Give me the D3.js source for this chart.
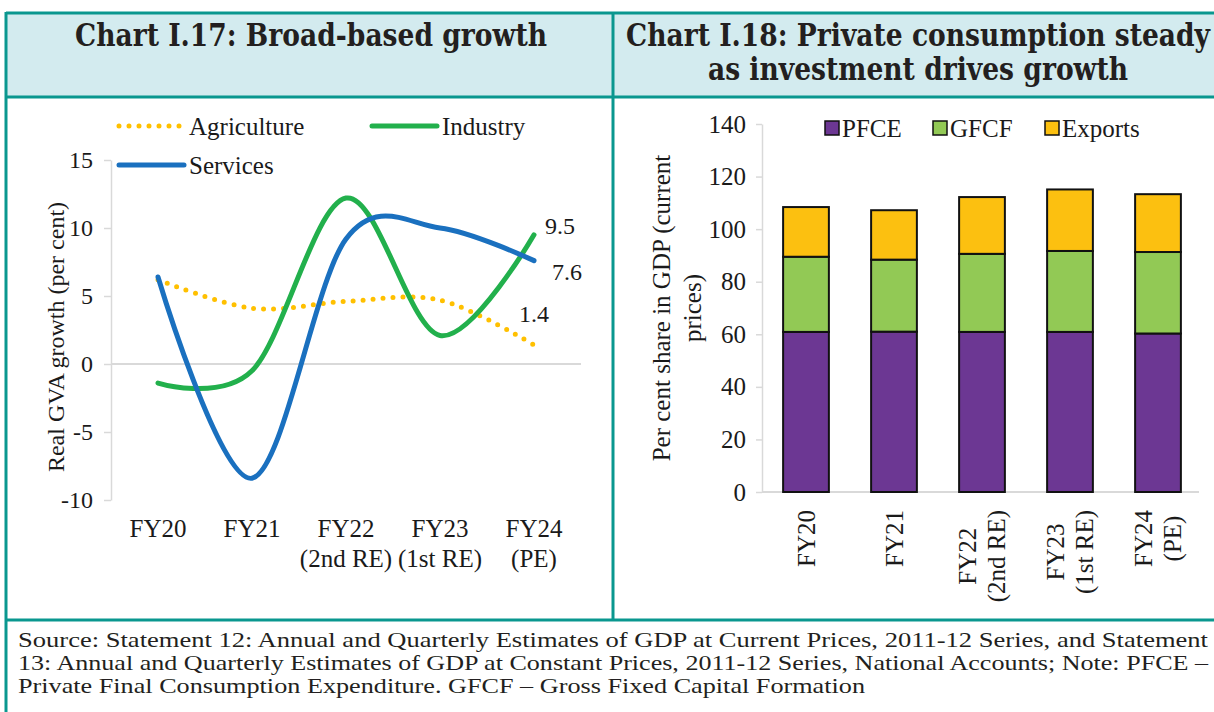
<!DOCTYPE html>
<html>
<head>
<meta charset="utf-8">
<script src="https://cdn.jsdelivr.net/npm/d3@7"></script>
<style>
  body { margin: 0; background: #fff; }
  svg { display: block; }
</style>
</head>
<body>
<div id="chart"></div>
<script>
// Categories and tick labels
let yearKeys = ["FY20", "FY21", "FY22", "FY23", "FY24"];
let yearLabels = [["FY20"], ["FY21"], ["FY22", "(2nd RE)"], ["FY23", "(1st RE)"], ["FY24", "(PE)"]];
let growthTicks = [-10, -5, 0, 5, 10, 15];
let shareTicks = [0, 20, 40, 60, 80, 100, 120, 140];

// Chart I.17 series: real GVA growth (per cent)
let agriculture = [6.2, 4.1, 4.6, 4.7, 1.4];
let industry = [-1.4, -0.5, 12.2, 2.1, 9.5];
let services = [6.4, -8.4, 9.2, 10.0, 7.6];

// Chart I.18 series: per cent share in GDP
let pfce = [60.9, 61.0, 60.9, 60.9, 60.3];
let gfcf = [28.6, 27.4, 29.7, 30.8, 31.0];
let exportsShare = [18.9, 18.8, 21.6, 23.4, 22.0];

// Texts
let titleLeft = "Chart I.17: Broad-based growth";
let titleRight = ["Chart I.18: Private consumption steady", "as investment drives growth"];
let footnote = [
  "Source: Statement 12: Annual and Quarterly Estimates of GDP at Current Prices, 2011-12 Series, and Statement",
  "13: Annual and Quarterly Estimates of GDP at Constant Prices, 2011-12 Series, National Accounts; Note: PFCE \u2013",
  "Private Final Consumption Expenditure. GFCF \u2013 Gross Fixed Capital Formation"
];
let footWidths = [1190, 1190, 847];

let width = 1214, height = 712;
let teal = "#0a978f";
let ink = "#1a1a1a";
let serif = "'Liberation Serif', 'Times New Roman', serif";
let titleFont = "'DejaVu Serif', Georgia, serif";

let svg = d3.select("#chart").append("svg")
  .attr("width", width)
  .attr("height", height);

// fit a text element to a target width by adjusting font size
function fitWidth(sel, target) {
  let w = sel.node().getComputedTextLength();
  let fs = parseFloat(sel.attr("font-size"));
  sel.attr("font-size", fs * target / w);
}

// ---------- frame ----------
svg.append("rect")
  .attr("x", 6).attr("y", 13)
  .attr("width", width).attr("height", 84)
  .attr("fill", "#d3ebef");

let frame = svg.append("g").attr("stroke", teal).attr("stroke-width", 3);
frame.append("line").attr("x1", 6).attr("x2", width).attr("y1", 13).attr("y2", 13);
frame.append("line").attr("x1", 6).attr("x2", width).attr("y1", 97).attr("y2", 97);
frame.append("line").attr("x1", 6).attr("x2", width).attr("y1", 620).attr("y2", 620);
frame.append("line").attr("x1", 6).attr("x2", 6).attr("y1", 12).attr("y2", height);
frame.append("line").attr("x1", 613).attr("x2", 613).attr("y1", 12).attr("y2", 620);

// titles (slightly stretched vertically to mimic the heavier original face)
function title(x, y, s) {
  return svg.append("g")
    .attr("transform", `translate(${x},${y}) scale(1,1.18)`)
    .append("text")
    .attr("text-anchor", "middle")
    .attr("font-family", titleFont)
    .attr("font-weight", "bold")
    .attr("font-size", 24)
    .attr("fill", "#231f20")
    .text(s);
}
fitWidth(title(311, 46, titleLeft), 472);
let t2 = title(918, 46, titleRight[0]);
fitWidth(t2, 584);
title(918, 80, titleRight[1]).attr("font-size", t2.attr("font-size"));

// footnote
svg.append("g")
  .attr("font-family", serif)
  .attr("font-size", 21)
  .attr("fill", "#231f20")
  .selectAll("text")
  .data(footnote)
  .enter()
  .append("text")
  .attr("x", 18)
  .attr("y", (d, i) => 647 + i * 23)
  .attr("textLength", (d, i) => footWidths[i])
  .attr("lengthAdjust", "spacingAndGlyphs")
  .text(d => d);

// ---------- Chart I.17 : lines ----------
let x1 = d3.scaleBand().domain(yearKeys).range([111, 581]);
let y1 = d3.scaleLinear().domain([-10, 15]).range([500, 160]);
let cx1 = (d, i) => x1(yearKeys[i]) + x1.bandwidth() / 2;

let left = svg.append("g");

// zero line
left.append("line")
  .attr("x1", 111).attr("x2", 581)
  .attr("y1", y1(0)).attr("y2", y1(0))
  .attr("stroke", "#d9d9d9").attr("stroke-width", 2);

let yAxis1 = left.append("g")
  .attr("transform", "translate(111,0)")
  .call(d3.axisLeft(y1).tickValues(growthTicks).tickFormat(d => String(d))
    .tickSize(7).tickSizeOuter(0).tickPadding(11));
yAxis1.select(".domain").attr("stroke", "#d9d9d9").attr("stroke-width", 1.5);
yAxis1.selectAll(".tick line").attr("stroke", "#d9d9d9").attr("stroke-width", 1.5);
yAxis1.selectAll(".tick text")
  .attr("font-family", serif).attr("font-size", 24).attr("fill", ink);

// x labels
left.selectAll(".xlab")
  .data(yearLabels)
  .enter()
  .append("text")
  .attr("class", "xlab")
  .attr("text-anchor", "middle")
  .attr("font-family", serif)
  .attr("font-size", 25)
  .attr("fill", ink)
  .each(function (lines, i) {
    let t = d3.select(this);
    lines.forEach((s, j) => {
      t.append("tspan")
        .attr("x", cx1(null, i))
        .attr("y", 537 + j * 30)
        .text(s);
    });
  });

// y label
left.append("text")
  .attr("transform", "translate(56,337) rotate(-90)")
  .attr("text-anchor", "middle")
  .attr("dominant-baseline", "central")
  .attr("font-family", serif)
  .attr("font-size", 24)
  .attr("fill", ink)
  .text("Real GVA growth (per cent)");

let line1 = d3.line()
  .x(cx1)
  .y(d => y1(d))
  .curve(d3.curveCatmullRom.alpha(0));

let lineSeries = [
  { name: "Agriculture", values: agriculture, color: "#ffc000", dash: "0 10", width: 5 },
  { name: "Industry", values: industry, color: "#22b04c", dash: null, width: 5 },
  { name: "Services", values: services, color: "#1a70bf", dash: null, width: 5 }
];

left.selectAll(".series")
  .data(lineSeries)
  .enter()
  .append("path")
  .attr("class", "series")
  .attr("d", d => line1(d.values))
  .attr("fill", "none")
  .attr("stroke", d => d.color)
  .attr("stroke-width", d => d.width)
  .attr("stroke-linecap", "round")
  .attr("stroke-dasharray", d => d.dash);

// end labels
let endOffsets = [[-15, -31], [11, -9], [18, 11]];
left.selectAll(".endlab")
  .data(lineSeries)
  .enter()
  .append("text")
  .attr("class", "endlab")
  .attr("x", (d, i) => cx1(null, 4) + endOffsets[i][0])
  .attr("y", (d, i) => y1(d.values[4]) + endOffsets[i][1])
  .attr("dominant-baseline", "central")
  .attr("font-family", serif)
  .attr("font-size", 24)
  .attr("fill", ink)
  .text(d => d3.format(".1f")(d.values[4]));

// legend
let legendPos = [[117, 126], [370, 126], [117, 165]];
let lg = left.selectAll(".lg")
  .data(lineSeries)
  .enter()
  .append("g")
  .attr("class", "lg")
  .attr("transform", (d, i) => `translate(${legendPos[i][0]},${legendPos[i][1]})`);
lg.append("line")
  .attr("x1", 2).attr("x2", 67)
  .attr("stroke", d => d.color)
  .attr("stroke-width", d => d.width)
  .attr("stroke-linecap", "round")
  .attr("stroke-dasharray", d => d.dash);
lg.append("text")
  .attr("x", 72)
  .attr("dominant-baseline", "central")
  .attr("font-family", serif)
  .attr("font-size", 25)
  .attr("fill", ink)
  .text(d => d.name);

// ---------- Chart I.18 : stacked bars ----------
let x2 = d3.scaleBand().domain(yearKeys).range([762, 1202]).paddingInner(0.48).paddingOuter(0.24);
let y2 = d3.scaleLinear().domain([0, 140]).range([492, 124]);

let barKeys = ["PFCE", "GFCF", "Exports"];
let barColors = { PFCE: "#6c3793", GFCF: "#92c955", Exports: "#fcc010" };
let table = yearKeys.map((k, i) => ({ year: k, PFCE: pfce[i], GFCF: gfcf[i], Exports: exportsShare[i] }));
let stacked = d3.stack().keys(barKeys)(table);

let right = svg.append("g");

right.append("line")
  .attr("x1", 762).attr("x2", 1199)
  .attr("y1", y2(0)).attr("y2", y2(0))
  .attr("stroke", "#d9d9d9").attr("stroke-width", 2);

let yAxis2 = right.append("g")
  .attr("transform", "translate(762,0)")
  .call(d3.axisLeft(y2).tickValues(shareTicks).tickSize(6).tickSizeOuter(0).tickPadding(10));
yAxis2.select(".domain").attr("stroke", "#d9d9d9").attr("stroke-width", 1.5);
yAxis2.selectAll(".tick line").attr("stroke", "#d9d9d9").attr("stroke-width", 1.5);
yAxis2.selectAll(".tick text")
  .attr("font-family", serif).attr("font-size", 25).attr("fill", ink);

right.selectAll(".layer")
  .data(stacked)
  .enter()
  .append("g")
  .attr("class", "layer")
  .attr("fill", d => barColors[d.key])
  .selectAll("rect")
  .data(d => d)
  .enter()
  .append("rect")
  .attr("x", d => x2(d.data.year))
  .attr("y", d => y2(d[1]))
  .attr("width", x2.bandwidth())
  .attr("height", d => y2(d[0]) - y2(d[1]))
  .attr("stroke", "#111")
  .attr("stroke-width", 2);

// rotated x labels
right.selectAll(".xlab2")
  .data(yearLabels)
  .enter()
  .append("g")
  .attr("class", "xlab2")
  .attr("transform", (d, i) => `translate(${x2(yearKeys[i]) + x2.bandwidth() / 2},510) rotate(-90)`)
  .each(function (lines) {
    let g = d3.select(this);
    let texts = lines.map((s, j) => g.append("text")
      .attr("y", (j - (lines.length - 1) / 2) * 29)
      .attr("dominant-baseline", "central")
      .attr("text-anchor", "middle")
      .attr("font-family", serif)
      .attr("font-size", 25)
      .attr("fill", ink)
      .text(s));
    let maxW = d3.max(texts, t => t.node().getComputedTextLength());
    texts.forEach(t => t.attr("x", -maxW / 2));
  });

// y label (two lines)
let yl2 = right.append("g")
  .attr("transform", "translate(676,308) rotate(-90)");
["Per cent share in GDP (current", "prices)"].forEach((s, j) => {
  yl2.append("text")
    .attr("y", -15 + j * 31)
    .attr("text-anchor", "middle")
    .attr("dominant-baseline", "central")
    .attr("font-family", serif)
    .attr("font-size", 25)
    .attr("fill", ink)
    .text(s);
});

// legend
let legend2X = [825, 933, 1045];
let lg2 = right.selectAll(".lg2")
  .data(barKeys)
  .enter()
  .append("g")
  .attr("class", "lg2")
  .attr("transform", (d, i) => `translate(${legend2X[i]},128)`);
lg2.append("rect")
  .attr("x", 0).attr("y", -7)
  .attr("width", 14).attr("height", 14)
  .attr("fill", d => barColors[d])
  .attr("stroke", "#111")
  .attr("stroke-width", 1.5);
lg2.append("text")
  .attr("x", 17)
  .attr("dominant-baseline", "central")
  .attr("font-family", serif)
  .attr("font-size", 25)
  .attr("fill", ink)
  .text(d => d);
</script>
</body>
</html>
